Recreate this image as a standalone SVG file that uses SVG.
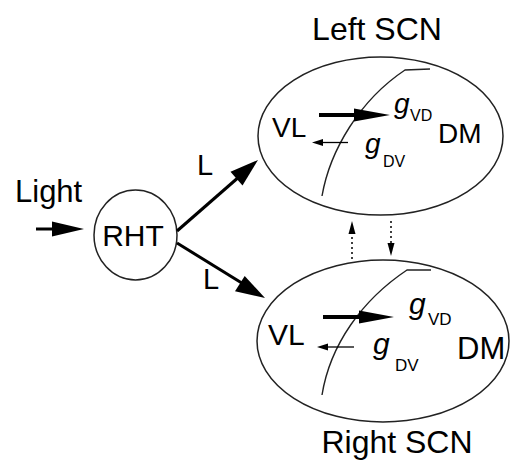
<svg xmlns="http://www.w3.org/2000/svg" width="515" height="462" viewBox="0 0 515 462">
  <style>
    text { font-family: "Liberation Sans", Arial, sans-serif; fill: #000; }
    .ital { font-style: italic; }
    .outline { fill: none; stroke: #222; stroke-width: 1.5; }
    .boundary { fill: none; stroke: #222; stroke-width: 1.4; }
    .thick { stroke: #000; stroke-width: 3; fill: none; }
    .heavy { stroke: #000; stroke-width: 4; fill: none; }
    .thin { stroke: #000; stroke-width: 1.3; fill: none; }
    .dotted { stroke: #000; stroke-width: 1.5; stroke-dasharray: 2 3; fill: none; }
    .head { fill: #000; stroke: none; }
  </style>

  <!-- titles -->
  <text x="377" y="40" font-size="32" text-anchor="middle">Left SCN</text>
  <text x="397" y="453" font-size="32" text-anchor="middle">Right SCN</text>
  <text x="15" y="202" font-size="31">Light</text>

  <!-- retinohypothalamic tract -->
  <g id="rht">
    <ellipse cx="135.5" cy="235" rx="41.5" ry="45" class="outline"/>
    <text x="133" y="246" font-size="30" text-anchor="middle">RHT</text>
  </g>

  <!-- left SCN -->
  <g id="left-scn">
    <ellipse cx="380.5" cy="136" rx="122.5" ry="79" class="outline"/>
    <path d="M322,196 C330,150 360,100 405,70 L430,69" class="boundary"/>
    <text x="272" y="137" font-size="28">VL</text>
    <text x="438" y="143" font-size="28">DM</text>
    <text x="394" y="113" font-size="28" class="ital">g</text>
    <text x="410" y="121" font-size="16">VD</text>
    <text x="365" y="153" font-size="28" class="ital">g</text>
    <text x="383" y="167" font-size="16">DV</text>
  </g>

  <!-- right SCN -->
  <g id="right-scn">
    <ellipse cx="383" cy="341" rx="126" ry="81" class="outline"/>
    <path d="M322,395 C330,345 362,300 407,270 L431,270" class="boundary"/>
    <text x="268" y="345" font-size="30">VL</text>
    <text x="457" y="359" font-size="31">DM</text>
    <text x="409" y="314" font-size="30" class="ital">g</text>
    <text x="428" y="325" font-size="17">VD</text>
    <text x="373" y="354" font-size="30" class="ital">g</text>
    <text x="395" y="371" font-size="17">DV</text>
  </g>

  <!-- connectors -->
  <g id="connectors">
    <!-- light input -->
    <line x1="36" y1="229" x2="60" y2="229" class="thick"/>
    <polygon points="52,221.5 84,229 52,236.5" class="head"/>

    <!-- L to left SCN -->
    <line x1="177" y1="231" x2="240" y2="176" class="thick"/>
    <polygon points="258,160 242.5,185.5 230.5,171.8" class="head"/>
    <text x="197" y="175" font-size="29">L</text>

    <!-- L to right SCN -->
    <line x1="177" y1="243" x2="245" y2="285" class="thick"/>
    <polygon points="265,298 235,291.2 244.7,275.9" class="head"/>
    <text x="203" y="289" font-size="29">L</text>

    <!-- coupling inside left SCN -->
    <line x1="319" y1="115" x2="360" y2="115" class="heavy"/>
    <polygon points="354,108.5 390,115 354,121.5" class="head"/>
    <line x1="348" y1="142.5" x2="320" y2="142.5" class="thin"/>
    <polygon points="312,142.5 323,139 323,146" class="head"/>

    <!-- coupling inside right SCN -->
    <line x1="323" y1="317" x2="365" y2="317" class="heavy"/>
    <polygon points="359,310.5 394,317 359,323.5" class="head"/>
    <line x1="354" y1="347" x2="325" y2="347" class="thin"/>
    <polygon points="317,347 328,343.5 328,350.5" class="head"/>

    <!-- left/right coupling -->
    <line x1="352" y1="259" x2="352" y2="232" class="dotted"/>
    <polygon points="352,221 348.5,234 355.5,234" class="head"/>
    <line x1="391" y1="221" x2="391" y2="245" class="dotted"/>
    <polygon points="391,256 387.5,243 394.5,243" class="head"/>
  </g>
</svg>
